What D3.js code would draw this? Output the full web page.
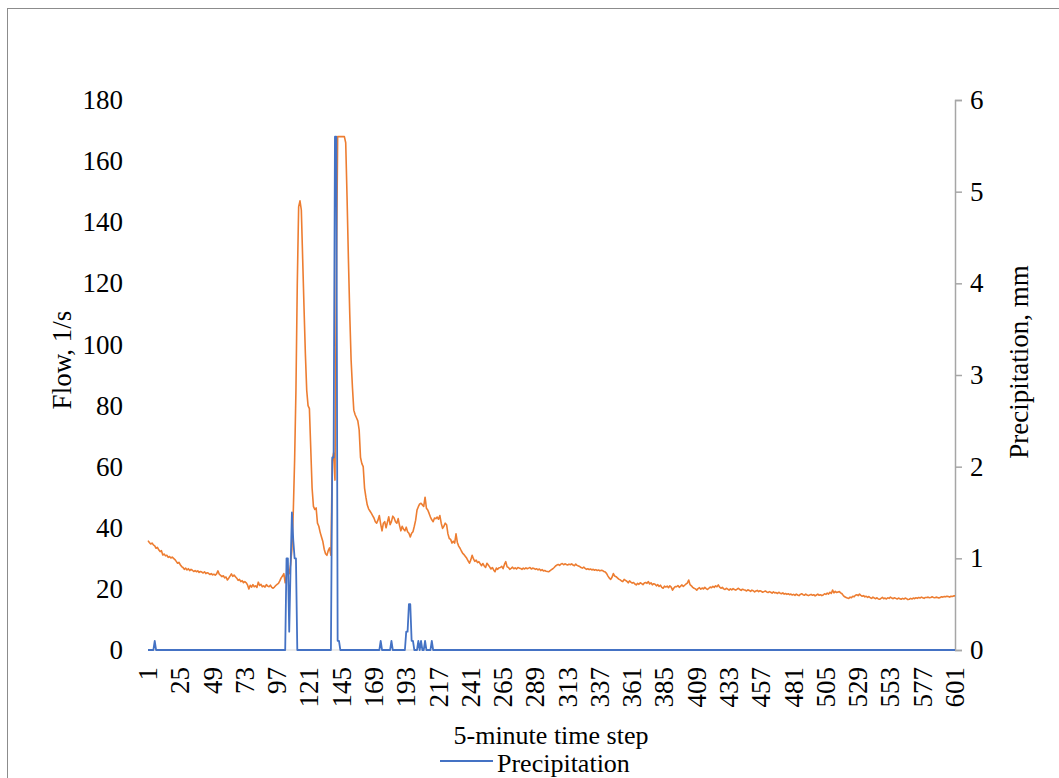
<!DOCTYPE html>
<html>
<head>
<meta charset="utf-8">
<script src="https://cdn.jsdelivr.net/npm/d3@7"></script>
<style>
  body { margin: 0; background: #fff; }
  svg text { font-family: "Liberation Serif", "Times New Roman", serif; }
</style>
</head>
<body>
<div></div>
<script>
const width = 1059, height = 778

// data
const steps = d3.range(1, 602)   // 5-minute time steps 1..601
const xTickLabels = d3.range(1, 602, 24)
const flowTicks = d3.range(0, 181, 20)
const precipTicks = d3.range(0, 7, 1)
// flow, l/s (one value per step)
const flow = [
  35.8,35.2,34.7,35.0,34.4,34.1,33.3,33.6,32.8,32.2,32.5,31.1,31.4,30.8,31.0,30.3,30.6,30.1,30.4,30.0,
  29.6,29.0,28.4,28.7,27.9,27.3,27.0,26.4,26.8,26.2,26.6,26.0,26.4,26.1,25.7,26.0,25.6,25.9,25.4,25.7,
  25.5,25.2,25.6,25.0,25.3,25.1,24.7,25.0,24.6,24.8,24.5,24.9,25.9,24.8,24.4,24.0,24.3,23.6,23.9,22.9,
  23.5,24.2,24.9,24.1,24.5,24.0,23.5,22.8,23.1,22.4,22.7,22.0,22.4,22.0,21.3,20.0,21.2,20.6,21.4,20.7,
  21.0,20.5,22.2,21.1,21.5,20.7,21.0,20.6,21.4,20.9,20.7,21.2,20.5,20.2,20.6,21.1,21.5,21.8,22.6,23.6,
  24.2,25.0,22.0,24.5,25.2,25.0,28.0,33.0,45.0,62.0,85.0,120,145,147,144,128,112,97,85,80,
  79,66,53,47,46,46.5,41.5,40.5,38.5,37,35.5,33,31.5,31,32.5,33.4,31,62,64.5,55.6,
  118,168,168,168,168,168,168,166,148,128,110,95,86,78.5,77,76,75,72,63,61,
  60,53,50,47.5,46.2,45.5,44.8,44.0,43.2,42.0,41.5,42.5,44.0,41.2,39.0,41.5,42.0,40.0,41.8,43.6,
  41.0,42.0,43.8,43.2,42.0,41.5,43.0,40.8,39.0,40.5,39.5,39.0,40.2,38.7,38.2,37.0,38.2,38.7,40.5,42.5,
  45.8,46.9,47.8,48.0,47.5,47.0,50.0,46.4,45.8,44.7,43.5,42.6,42.0,43.2,43.0,43.5,42.8,44.0,41.5,39.8,
  40.5,41.5,41.0,38.0,36.5,36.2,35.0,35.6,35.0,38.0,35.2,34.0,33.3,32.4,31.6,31.2,30.6,30.0,29.2,28.4,
  29.5,31.0,29.8,29.0,29.4,28.6,28.9,28.2,27.6,28.3,27.5,27.0,28.4,27.8,27.2,26.5,27.0,26.2,25.6,26.8,
  26.4,26.9,27.0,27.4,26.6,28.0,28.9,27.2,27.0,26.4,26.7,27.1,26.6,26.9,26.5,27.0,26.8,26.7,26.4,26.8,
  26.5,26.9,26.6,26.8,27.0,26.5,26.8,26.7,26.4,26.6,26.2,26.5,26.0,26.3,25.9,26.0,25.8,25.7,25.6,26.0,
  26.3,26.6,27.0,27.5,27.8,28.0,27.7,28.1,28.3,27.9,28.2,28.0,27.8,28.1,27.9,28.2,27.8,27.6,28.1,27.7,
  27.5,27.3,27.0,26.8,27.1,26.7,26.4,26.6,26.3,26.5,26.2,26.4,26.1,26.3,26.0,26.2,25.9,26.1,26.0,25.7,
  25.5,25.0,24.2,23.5,23.1,23.8,25.0,24.2,24.0,23.6,23.2,23.0,22.6,22.4,23.1,22.8,22.5,22.0,22.6,22.2,
  21.9,22.1,21.6,21.3,21.8,21.5,22.0,21.7,21.4,21.9,22.1,21.8,22.4,21.6,22.0,21.3,21.7,21.5,21.0,21.4,
  20.8,21.2,20.5,20.2,20.9,20.6,20.9,20.4,21.0,20.6,19.6,20.3,20.8,20.7,21.1,20.5,20.9,21.3,20.8,21.2,
  21.6,21.9,22.9,21.4,21.0,20.5,20.2,20.0,19.6,20.1,20.4,19.9,20.3,20.0,20.5,20.1,19.8,20.2,20.6,20.4,
  20.8,20.5,21.0,20.7,21.3,20.6,20.2,20.5,20.0,19.8,20.2,19.9,19.6,20.0,19.7,20.1,19.8,19.6,19.9,20.2,
  19.8,19.5,19.9,19.7,19.6,19.3,19.7,19.5,19.2,19.6,19.4,19.0,19.3,19.5,19.1,19.4,19.2,18.9,19.1,19.3,
  19.0,18.8,19.1,18.9,18.6,19.0,18.7,18.8,18.5,18.9,18.6,18.4,18.7,18.3,18.5,18.2,18.4,18.1,18.3,18.0,
  18.2,17.9,18.3,18.0,17.8,18.2,18.4,18.1,17.9,18.3,18.0,17.8,18.0,18.2,17.9,18.1,17.7,18.0,18.3,17.9,
  18.1,17.8,18.0,18.4,18.2,18.6,18.3,18.9,18.5,19.6,18.7,19.2,18.8,19.0,19.1,18.7,18.4,17.8,17.4,17.2,
  17.0,16.9,17.3,17.1,17.6,17.4,17.9,18.1,17.8,18.3,17.9,17.6,17.8,17.4,17.6,17.2,17.5,17.1,16.9,17.3,
  17.0,16.8,17.1,16.7,16.6,16.9,17.2,16.8,17.0,16.7,17.1,16.9,17.3,17.0,16.8,17.1,16.9,16.7,17.0,16.8,
  16.6,16.9,16.7,17.0,16.8,16.5,16.6,16.9,16.7,17.0,16.8,17.1,16.9,17.2,17.0,17.3,17.1,16.9,17.2,17.2,
  17.3,17.1,17.2,17.4,17.2,17.1,17.3,17.2,17.0,17.2,17.4,17.3,17.5,17.4,17.6,17.5,17.3,17.6,17.5,17.7,17.7
]
// precipitation, mm: steps with rain (all other steps are 0)
const rainSteps  = [6, 104, 105, 106, 107, 108, 109, 110, 111, 138, 139, 140, 141, 142, 143, 174, 182, 193, 194, 195, 196, 197, 198, 202, 204, 207, 212]
const rainValues = [0.1, 1.0, 1.0, 0.2, 0.9, 1.5, 1.2, 1.0, 1.0, 2.1, 2.1, 5.6, 5.6, 0.1, 0.1, 0.1, 0.1, 0.2, 0.2, 0.5, 0.5, 0.1, 0.1, 0.1, 0.1, 0.1, 0.1]

const rainByStep = new Map(rainSteps.map((s, i) => [s, rainValues[i]]))
const flowData = steps.map((s, i) => ({step: s, v: flow[i]})).filter(d => d.v != null)
const precipData = steps.map(s => ({step: s, v: rainByStep.get(s) || 0}))

const svg = d3.select("div")
    .append("svg")
    .attr("xmlns", "http://www.w3.org/2000/svg")
    .attr("width", width)
    .attr("height", height)

// chart border
svg.append("rect")
    .attr("x", 7.5).attr("y", 8.5)
    .attr("width", 1100).attr("height", 900)
    .attr("fill", "none")
    .attr("stroke", "#8c8c8c")
    .attr("stroke-width", 1)

// scales
const x = d3.scaleLinear().domain([1, 601]).range([148, 955])
const yL = d3.scaleLinear().domain([0, 180]).range([650, 100])
const yR = d3.scaleLinear().domain([0, 6]).range([650, 100])

const fontSize = 27

// x axis line
svg.append("line")
    .attr("x1", x(1)).attr("x2", x(601))
    .attr("y1", yL(0)).attr("y2", yL(0))
    .attr("stroke", "#d9d9d9")
    .attr("stroke-width", 1)

// left axis (labels only)
const gL = svg.append("g")
    .attr("transform", `translate(${x(1)},0)`)
    .call(d3.axisLeft(yL).tickValues(flowTicks).tickSize(0).tickPadding(25))
gL.select(".domain").remove()
gL.selectAll("text").attr("font-size", fontSize).attr("fill", "#000")

// right axis
const gR = svg.append("g")
    .attr("transform", `translate(${x(601)},0)`)
    .call(d3.axisRight(yR).tickValues(precipTicks).tickFormat(d3.format("d"))
        .tickSizeOuter(0).tickSize(7).tickPadding(8))
gR.select(".domain").attr("stroke", "#a6a6a6").attr("stroke-width", 1.5)
gR.selectAll(".tick line").attr("stroke", "#a6a6a6").attr("stroke-width", 1.5)
gR.selectAll("text").attr("font-size", fontSize).attr("fill", "#000")

// x tick labels (rotated)
svg.selectAll().data(xTickLabels).enter().append("text")
    .attr("transform", d => `translate(${x(d)},667) rotate(-90)`)
    .attr("text-anchor", "end")
    .attr("dominant-baseline", "central")
    .attr("font-size", fontSize)
    .attr("fill", "#000")
    .text(d => d)

// lines
const line = (ys) => d3.line()
    .x(d => x(d.step))
    .y(d => ys(d.v))

svg.append("path")
    .datum(flowData)
    .attr("d", line(yL))
    .attr("fill", "none")
    .attr("stroke", "#ED7D31")
    .attr("stroke-width", 1.6)
    .attr("stroke-linejoin", "round")

svg.append("path")
    .datum(precipData)
    .attr("d", line(yR))
    .attr("fill", "none")
    .attr("stroke", "#4472C4")
    .attr("stroke-width", 1.8)
    .attr("stroke-linejoin", "round")

// axis titles
svg.append("text")
    .attr("transform", "translate(62,360) rotate(-90)")
    .attr("text-anchor", "middle")
    .attr("dominant-baseline", "central")
    .attr("font-size", fontSize)
    .text("Flow, 1/s")

svg.append("text")
    .attr("transform", "translate(1019,362) rotate(-90)")
    .attr("text-anchor", "middle")
    .attr("dominant-baseline", "central")
    .attr("font-size", fontSize)
    .text("Precipitation, mm")

svg.append("text")
    .attr("x", 551).attr("y", 735)
    .attr("text-anchor", "middle")
    .attr("dominant-baseline", "central")
    .attr("font-size", 26)
    .text("5-minute time step")

// legend
svg.append("line")
    .attr("x1", 440).attr("x2", 493)
    .attr("y1", 761).attr("y2", 761)
    .attr("stroke", "#4472C4")
    .attr("stroke-width", 1.8)
svg.append("text")
    .attr("x", 497).attr("y", 763)
    .attr("dominant-baseline", "central")
    .attr("font-size", 26)
    .text("Precipitation")
</script>
</body>
</html>
